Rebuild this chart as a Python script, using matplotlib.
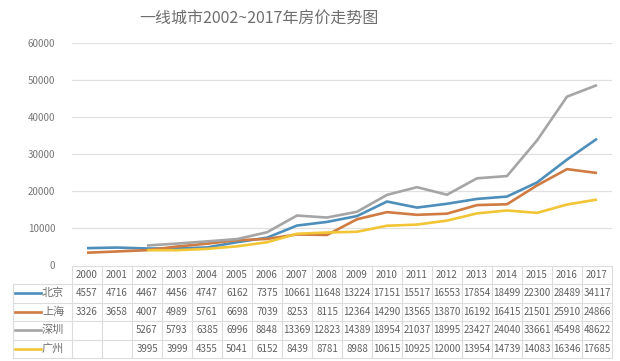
import numpy as np
import matplotlib
matplotlib.use("Agg")
import matplotlib.pyplot as plt
from matplotlib.transforms import blended_transform_factory
from matplotlib.lines import Line2D

plt.rcParams['font.family'] = ['Noto Sans CJK SC', 'DejaVu Sans']

title = "一线城市2002~2017年房价走势图"
years = [str(y) for y in range(2000, 2018)]
cities = ["北京", "上海", "深圳", "广州"]
beijing = [4557, 4716, 4467, 4456, 4747, 6162, 7375, 10661, 11648, 13224, 17151, 15517, 16553, 17854, 18499, 22300, 28489, 34117]
shanghai = [3326, 3658, 4007, 4989, 5761, 6698, 7039, 8253, 8115, 12364, 14290, 13565, 13870, 16192, 16415, 21501, 25910, 24866]
shenzhen = [None, None, 5267, 5793, 6385, 6996, 8848, 13369, 12823, 14389, 18954, 21037, 18995, 23427, 24040, 33661, 45498, 48622]
guangzhou = [None, None, 3995, 3999, 4355, 5041, 6152, 8439, 8781, 8988, 10615, 10925, 12000, 13954, 14739, 14083, 16346, 17685]
yticks = [0, 10000, 20000, 30000, 40000, 50000, 60000]
series = [beijing, shanghai, shenzhen, guangzhou]
colors = ["#4d8fba", "#cf7b42", "#a5a5a5", "#f2c536"]

W, H = 620, 361
fig = plt.figure(figsize=(W / 100, H / 100), dpi=100)
fig.patch.set_facecolor("white")

x0, x1 = 72, 612
ytop, ybot = 43, 265
ax = fig.add_axes([x0 / W, 1 - ybot / H, (x1 - x0) / W, (ybot - ytop) / H])
n = len(years)
xs = np.arange(n)
ax.set_xlim(-0.5, n - 0.5)
ax.set_ylim(0, 60000)
for s in ax.spines.values():
    s.set_visible(False)
ax.set_xticks([])
ax.set_yticks(yticks)
ax.tick_params(axis='y', length=0, pad=12, labelsize=7, labelcolor="#777777")
ax.set_yticklabels([str(v) for v in yticks])
ax.grid(axis='y', color="#e0e0e0", linewidth=0.9)
ax.set_axisbelow(True)

for vals, c in zip(series, colors):
    arr = np.array([np.nan if v is None else v for v in vals], dtype=float)
    ax.plot(xs, arr, color=c, linewidth=1.9, solid_capstyle='butt')

fig.text(259 / W, 1 - 18 / H, title, ha='center', va='center', fontsize=11.5, color="#6e6e6e")

# data table
tr = blended_transform_factory(ax.transData, fig.transFigure)
def fy(py):
    return 1 - py / H

grid_c = "#dcdcdc"
rows_y = [266, 284, 302.5, 321, 339.5, 358]
for i in range(n + 1):
    xv = i - 0.5
    fig.add_artist(Line2D([xv, xv], [fy(266), fy(358)], transform=tr, color=grid_c, linewidth=0.8))
for k, ry in enumerate(rows_y):
    xl = x0 if k == 0 else 13
    fig.add_artist(Line2D([xl / W, x1 / W], [fy(ry), fy(ry)], transform=fig.transFigure, color=grid_c, linewidth=0.8))
fig.add_artist(Line2D([13 / W, 13 / W], [fy(284), fy(358)], transform=fig.transFigure, color=grid_c, linewidth=0.8))

for i, yl in enumerate(years):
    fig.text(i, fy(275), yl, transform=tr, ha='center', va='center', fontsize=7, color="#606060")

for r, (name, vals, c) in enumerate(zip(cities, series, colors)):
    cy = (rows_y[r + 1] + rows_y[r + 2]) / 2
    fig.add_artist(Line2D([15 / W, 41 / W], [fy(cy), fy(cy)], transform=fig.transFigure, color=c, linewidth=1.9))
    fig.text(42 / W, fy(cy), name, ha='left', va='center', fontsize=8, color="#707070")
    for i, v in enumerate(vals):
        if v is not None:
            fig.text(i, fy(cy), str(v), transform=tr, ha='center', va='center', fontsize=7, color="#606060")

fig.savefig("out.png", dpi=100, facecolor="white")
